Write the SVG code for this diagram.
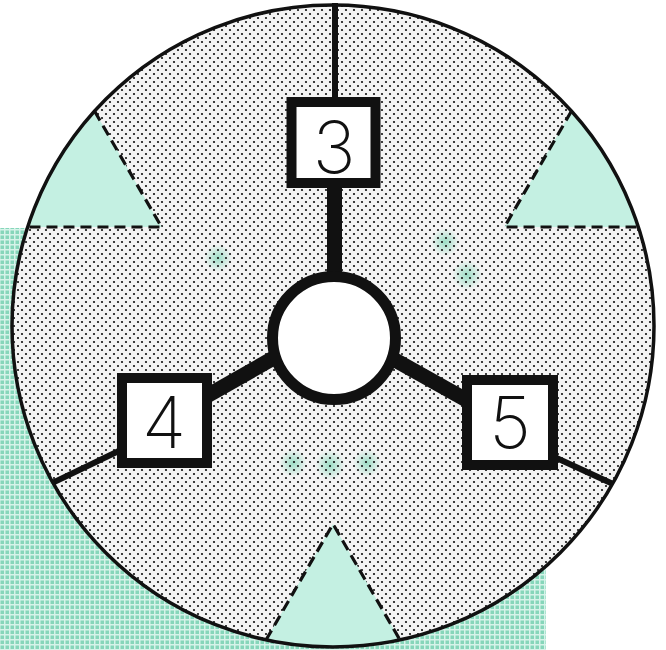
<svg xmlns="http://www.w3.org/2000/svg" width="666" height="650" viewBox="0 0 666 650">
<style>
.box{fill:#fff;stroke:#111;stroke-width:10}
.num{font-family:Inter,"Noto Sans","DejaVu Sans",sans-serif;font-weight:200;font-size:72px;fill:#111;text-anchor:middle}
.dash{fill:none;stroke:#111;stroke-width:3.2;stroke-dasharray:11 6}
.tri{fill:#c4f0e2}
.thick{stroke:#111;stroke-width:15;stroke-linecap:butt}
.thin{stroke:#111;stroke-width:6;stroke-linecap:butt}
</style>
<defs>
<pattern id="grid" width="5" height="5" patternUnits="userSpaceOnUse">
<rect width="5" height="5" fill="#d6f3e9"/>
<rect x="0.5" y="0.5" width="3.5" height="3.5" fill="#86d6ba"/>
</pattern>
<pattern id="stip" width="8" height="8" patternUnits="userSpaceOnUse">
<circle cx="2" cy="2" r="1.1" fill="#111"/>
<circle cx="6" cy="6" r="1.1" fill="#111"/>
</pattern>
<radialGradient id="sg">
<stop offset="0" stop-color="#7fd6b6" stop-opacity="0.75"/>
<stop offset="1" stop-color="#7fd6b6" stop-opacity="0"/>
</radialGradient>
</defs>
<rect width="666" height="650" fill="#fff"/>
<rect x="0" y="228" width="546" height="422" fill="url(#grid)"/>
<g id="disc">
<circle cx="333" cy="326" r="321" fill="#f4f4f4"/>
<g fill="url(#sg)">
<circle cx="218" cy="258" r="14"/>
<circle cx="445" cy="242" r="14"/>
<circle cx="467" cy="275" r="15"/>
<circle cx="293" cy="463" r="14"/>
<circle cx="330" cy="465" r="15"/>
<circle cx="367" cy="463" r="14"/>
</g>
<circle cx="333" cy="326" r="321" fill="url(#stip)"/>
<path class="tri" d="M161.5,227 L94.5,111 A321,321 0 0,0 27.6,227 Z"/>
<path class="tri" d="M504.5,227 L571.5,111 A321,321 0 0,1 638.4,227 Z"/>
<path class="tri" d="M333,524 L400,640 A321,321 0 0,1 266,640 Z"/>
<path class="dash" d="M94.5,111 L161.5,227 L27.6,227"/>
<path class="dash" d="M571.5,111 L504.5,227 L638.4,227"/>
<path class="dash" d="M266,640 L333,524 L400,640"/>
</g>
<g id="connectors">
<line class="thin" x1="335" y1="3" x2="335" y2="100"/>
<line class="thick" x1="334.5" y1="185" x2="334.5" y2="285"/>
<line class="thick" x1="300" y1="343" x2="205" y2="397"/>
<line class="thin" x1="125" y1="448" x2="53" y2="482.6"/>
<line class="thick" x1="370" y1="346" x2="470" y2="402"/>
<line class="thin" x1="550" y1="455" x2="612.5" y2="483.8"/>
</g>
<circle cx="333" cy="326" r="321" fill="none" stroke="#111" stroke-width="3.5"/>
<g id="hub">
<circle cx="334" cy="338" r="61.5" fill="#fff" stroke="#111" stroke-width="11"/>
</g>
<g id="node-3">
<rect class="box" x="291.5" y="102" width="84" height="81"/>
<text class="num" x="334" y="173">3</text>
</g>
<g id="node-4">
<rect class="box" x="122" y="378" width="85" height="85"/>
<text class="num" x="164" y="448">4</text>
</g>
<g id="node-5">
<rect class="box" x="467" y="380" width="86" height="85"/>
<text class="num" x="510" y="448">5</text>
</g>
</svg>
